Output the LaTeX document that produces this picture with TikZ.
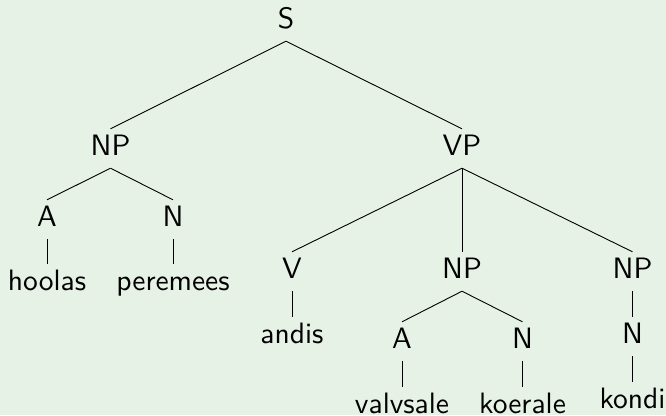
\documentclass[tikz,border=0pt]{standalone}
\usepackage{fontspec}
\newfontfamily\treefont{lmsans10-regular}[Extension=.otf]
\begin{document}
\begin{tikzpicture}[x=1pt,y=-1pt,
  lbl/.style={anchor=base,font=\treefont\fontsize{29.5}{35}\selectfont,
    text height=20pt,text depth=7pt,inner sep=6pt},
  edge/.style={draw=black,line width=0.9pt}]
\definecolor{bgc}{RGB}{230,242,230}
\fill[bgc] (0,0) rectangle (666,415);
\useasboundingbox (0,0) rectangle (666,415);
\node[lbl] (S) at (286,28) {S};
\node[lbl] (NP1) at (110.5,155) {NP};
\node[lbl] (VP) at (462,155) {VP};
\node[lbl] (A1) at (47,226) {A};
\node[lbl] (N1) at (173,226) {N};
\node[lbl] (w1) at (47,290) {hoolas};
\node[lbl] (w2) at (173,290) {peremees};
\node[lbl] (V) at (292,278) {V};
\node[lbl] (NP2) at (462,278) {NP};
\node[lbl] (NP3) at (632.5,278) {NP};
\node[lbl] (w3) at (292,343) {andis};
\node[lbl] (A2) at (402,348) {A};
\node[lbl] (N2) at (522.5,348) {N};
\node[lbl] (w4) at (402,413) {valvsale};
\node[lbl] (w5) at (522.5,413) {koerale};
\node[lbl] (N3) at (632.5,343) {N};
\node[lbl] (w6) at (632.5,408) {kondi};
\draw[edge] (S.south) -- (NP1.north);
\draw[edge] (S.south) -- (VP.north);
\draw[edge] (NP1.south) -- (A1.north);
\draw[edge] (NP1.south) -- (N1.north);
\draw[edge] (A1.south) -- (w1.north);
\draw[edge] (N1.south) -- (w2.north);
\draw[edge] (VP.south) -- (V.north);
\draw[edge] (VP.south) -- (NP2.north);
\draw[edge] (VP.south) -- (NP3.north);
\draw[edge] (V.south) -- (w3.north);
\draw[edge] (NP2.south) -- (A2.north);
\draw[edge] (NP2.south) -- (N2.north);
\draw[edge] (A2.south) -- (w4.north);
\draw[edge] (N2.south) -- (w5.north);
\draw[edge] (NP3.south) -- (N3.north);
\draw[edge] (N3.south) -- (w6.north);
\end{tikzpicture}
\end{document}
